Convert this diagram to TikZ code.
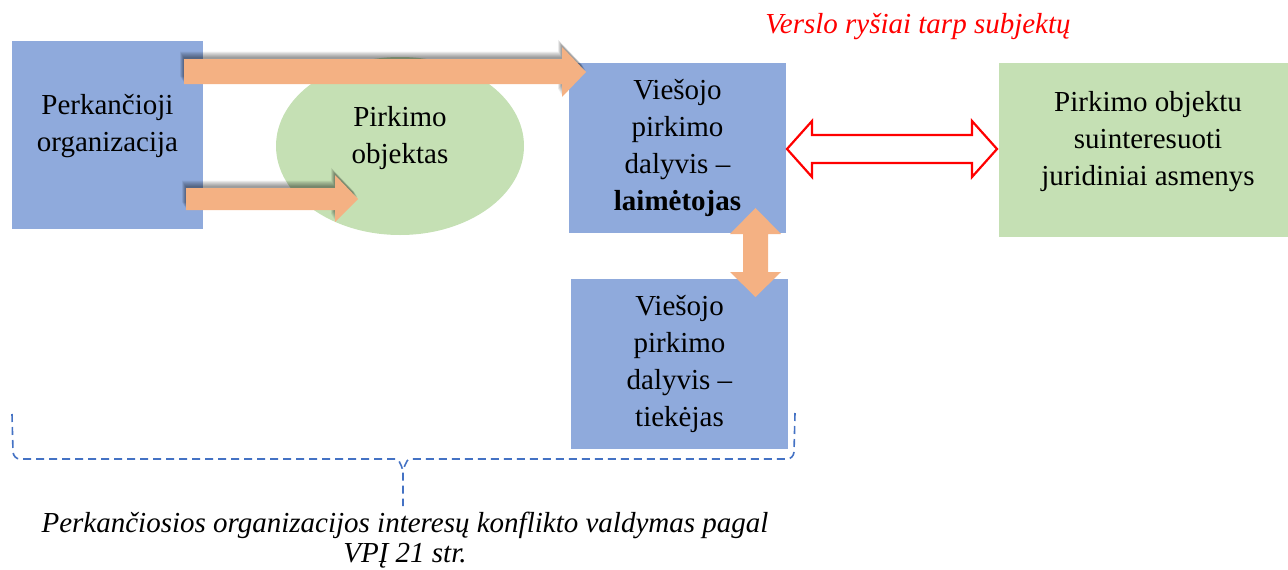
\documentclass[tikz,border=0pt]{standalone}
\usepackage{fontspec}
\newfontfamily\tnr{Liberation Serif}
\definecolor{boxblue}{HTML}{8FAADC}
\definecolor{boxgreen}{HTML}{C5E0B4}
\definecolor{arrorange}{HTML}{F4B183}
\definecolor{bracketblue}{HTML}{4472C4}
\begin{document}
\begin{tikzpicture}[x=1pt,y=-1pt,
  txt/.style={align=center,inner sep=0pt,font=\tnr\fontsize{29}{37}\selectfont},
  orangearrow/.style={fill=arrorange,draw=none},
  arrshadow/.style={fill=black,draw=none,opacity=0.06},
  redarrow/.style={fill=white,draw=red,line width=2.2pt,line join=miter},
  bracket/.style={draw=bracketblue,dash pattern=on 8pt off 5pt,line width=1.6pt}
  ]
\useasboundingbox (0,0) rectangle (1288,570);
% boxes
\fill[boxblue] (12,41) rectangle (203,229);
\node[txt] (po) at (107.5,126) {\strut Perkančioji\\\strut organizacija};
\fill[boxgreen] (400,146) ellipse [x radius=124, y radius=89];
\node[txt] (obj) at (400,138) {\strut Pirkimo\\\strut objektas};
\fill[boxblue] (569,63) rectangle (786,233);
\node[txt] (win) at (677.5,148) {\strut Viešojo\\\strut pirkimo\\\strut dalyvis –\\\strut\textbf{laimėtojas}};
\fill[boxblue] (571,279) rectangle (788,449);
\node[txt] (sup) at (679.5,364) {\strut Viešojo\\\strut pirkimo\\\strut dalyvis –\\\strut tiekėjas};
\fill[boxgreen] (999,63) rectangle (1288,237);
\node[txt] (jur) at (1148,141.5) {\strut Pirkimo objektu\\\strut suinteresuoti\\\strut juridiniai asmenys};
% orange arrows with soft shadow
\foreach \s in {1,...,8}{
  \fill[arrshadow,shift={(-0.5*\s,-1-0.8*\s)}] (184,59) -- (562,59) -- (562,47) -- (586,72) -- (562,97) -- (562,84) -- (184,84) -- cycle;
  \fill[arrshadow,shift={(-0.5*\s,-1-0.8*\s)}] (186,188) -- (335,188) -- (335,175) -- (358,199) -- (335,222) -- (335,210) -- (186,210) -- cycle;
}
\fill[orangearrow] (184,59) -- (562,59) -- (562,47) -- (586,72) -- (562,97) -- (562,84) -- (184,84) -- cycle;
\fill[orangearrow] (186,188) -- (335,188) -- (335,175) -- (358,199) -- (335,222) -- (335,210) -- (186,210) -- cycle;
% vertical double arrow
\fill[orangearrow] (755.5,208) -- (781,234) -- (768,234) -- (768,272) -- (781,272) -- (755.5,297) -- (730,272) -- (743,272) -- (743,234) -- (730,234) -- cycle;
% red outlined double arrow
\draw[redarrow] (787,149) -- (812,121) -- (812,135) -- (972,135) -- (972,121) -- (997,149) -- (972,177) -- (972,163) -- (812,163) -- (812,177) -- cycle;
% red caption
\node[txt,text=red,font=\tnr\fontsize{29}{37}\selectfont\itshape,anchor=base] (rel) at (918,33) {Verslo ryšiai tarp subjektų};
% bracket
\coordinate (bl) at (12,414);
\coordinate (br) at (795,413);
\coordinate (bt) at (403,506);
\draw[bracket] (bl) -- (13,452) to[out=-85,in=180] (20,459) -- (396,459) to[out=0,in=-90] (403,469) -- (bt);
\draw[bracket] (br) -- (794,452) to[out=-95,in=0] (787,459) -- (410,459) to[out=180,in=-90] (403,469);
\node[txt,font=\tnr\fontsize{29}{30}\selectfont\itshape] (cap) at (405,541) {\strut Perkančiosios organizacijos interesų konflikto valdymas pagal\\\strut VPĮ 21 str.};
\end{tikzpicture}
\end{document}
